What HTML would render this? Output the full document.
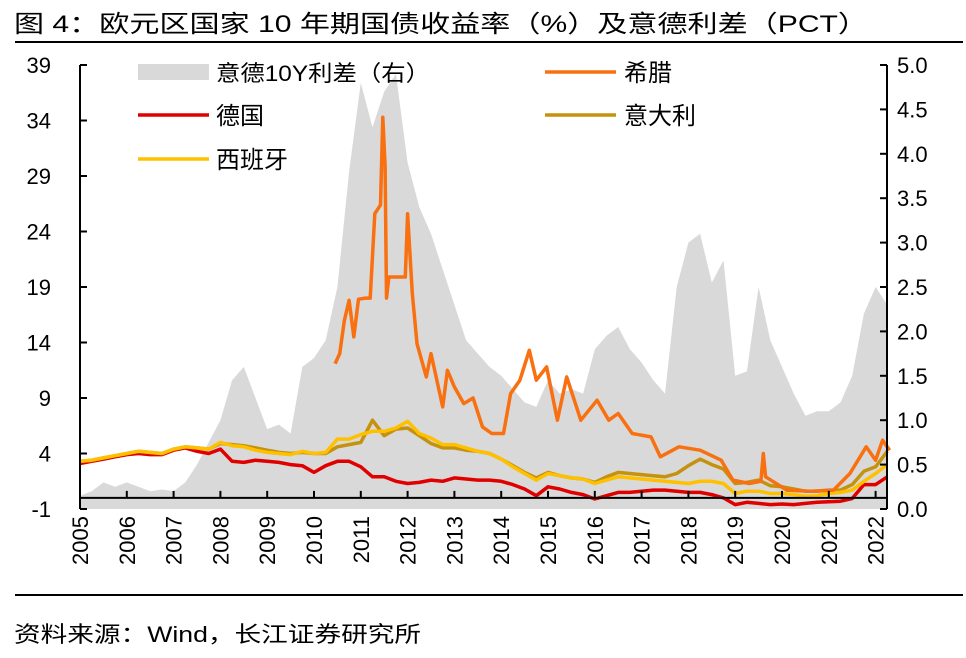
<!DOCTYPE html>
<html><head><meta charset="utf-8"><style>
body{margin:0;background:#fff;}
svg text{font-family:"Liberation Sans","Noto Sans CJK SC",sans-serif;}
</style></head><body>
<svg id="chart" width="966" height="653" viewBox="0 0 966 653" xmlns="http://www.w3.org/2000/svg">
<text x="14" y="32" font-size="24" textLength="854" lengthAdjust="spacingAndGlyphs" fill="#000">图 4：欧元区国家 10 年期国债收益率（%）及意德利差（PCT）</text>
<rect x="15" y="41" width="948" height="2" fill="#000"/>
<rect x="15" y="594" width="948" height="2" fill="#000"/>
<text x="14" y="642" font-size="22" textLength="407" lengthAdjust="spacingAndGlyphs" fill="#000">资料来源：Wind，长江证券研究所</text>
<g id="plot"></g>
<g id="legend">
<rect x="138" y="64" width="71" height="16" fill="#D9D9D9"/>
<text x="216" y="81" font-size="22" textLength="214" lengthAdjust="spacingAndGlyphs">意德10Y利差（右）</text>
<line x1="138" y1="115" x2="209" y2="115" stroke="#E00000" stroke-width="3.5"/>
<text x="216" y="124" font-size="24">德国</text>
<line x1="138" y1="159" x2="209" y2="159" stroke="#FFC000" stroke-width="3.5"/>
<text x="216" y="168" font-size="24">西班牙</text>
<line x1="545" y1="72" x2="616" y2="72" stroke="#F87010" stroke-width="3.5"/>
<text x="624" y="81" font-size="24">希腊</text>
<line x1="545" y1="115" x2="616" y2="115" stroke="#C4920C" stroke-width="3.5"/>
<text x="624" y="124" font-size="24">意大利</text>
</g>
</svg>
<script>
const years=[2005,2006,2007,2008,2009,2010,2011,2012,2013,2014,2015,2016,2017,2018,2019,2020,2021,2022];
const leftTicks=[-1,4,9,14,19,24,29,34,39];
const rightTicks=["0.0","0.5","1.0","1.5","2.0","2.5","3.0","3.5","4.0","4.5","5.0"];
const gridStart=2005, gridStep=0.25;
const spread=[0.15,0.2,0.3,0.25,0.3,0.25,0.2,0.22,0.2,0.3,0.5,0.75,1.0,1.45,1.6,1.25,0.9,0.95,0.85,1.6,1.7,1.9,2.5,3.8,4.8,4.3,4.7,4.9,3.9,3.4,3.1,2.7,2.3,1.9,1.75,1.6,1.5,1.35,1.2,1.15,1.45,1.3,1.35,1.3,1.8,1.95,2.05,1.8,1.65,1.45,1.3,2.5,3.0,3.1,2.55,2.8,1.5,1.55,2.5,1.9,1.6,1.3,1.05,1.1,1.1,1.2,1.5,2.2,2.5,2.3];
const germany=[3.1,3.3,3.5,3.7,3.9,4.0,3.9,3.9,4.3,4.5,4.2,4.0,4.4,3.3,3.2,3.4,3.3,3.2,3.0,2.9,2.3,2.9,3.3,3.3,2.8,1.9,1.9,1.5,1.3,1.4,1.6,1.5,1.8,1.7,1.6,1.6,1.5,1.2,0.8,0.2,1.0,0.8,0.5,0.3,-0.1,0.2,0.5,0.5,0.6,0.7,0.7,0.6,0.5,0.5,0.3,0.0,-0.6,-0.4,-0.5,-0.6,-0.55,-0.6,-0.5,-0.4,-0.35,-0.3,-0.05,1.2,1.2,1.9];
const spain=[3.3,3.4,3.6,3.8,4.0,4.2,4.1,4.0,4.4,4.6,4.5,4.4,5.0,4.7,4.6,4.3,4.1,4.0,3.9,4.2,4.0,4.1,5.3,5.3,5.7,6.0,6.0,6.3,6.9,5.8,5.4,4.8,4.8,4.5,4.2,4.0,3.5,2.8,2.2,1.6,2.2,2.0,1.8,1.7,1.3,1.6,1.9,1.8,1.7,1.6,1.5,1.4,1.3,1.5,1.5,1.3,0.4,0.6,0.6,0.4,0.4,0.3,0.15,0.2,0.4,0.5,0.7,1.5,2.2,3.0];
const italy=[3.3,3.4,3.6,3.8,4.0,4.2,4.1,4.0,4.4,4.6,4.5,4.4,4.9,4.8,4.7,4.5,4.3,4.1,4.0,4.1,4.0,4.0,4.6,4.8,5.0,7.0,5.6,6.2,6.3,5.6,4.9,4.5,4.5,4.3,4.2,4.0,3.5,2.9,2.3,1.8,2.3,2.0,1.8,1.7,1.4,1.9,2.3,2.2,2.1,2.0,1.9,2.2,2.9,3.5,3.0,2.6,1.3,1.4,1.6,1.1,1.0,0.8,0.6,0.6,0.7,0.7,1.2,2.4,2.8,4.2];
const greeceDates=[2010.45,2010.55,2010.65,2010.75,2010.85,2010.95,2011.1,2011.2,2011.3,2011.42,2011.47,2011.52,2011.55,2011.6,2011.95,2012.0,2012.1,2012.2,2012.4,2012.5,2012.75,2012.85,2013.0,2013.2,2013.4,2013.6,2013.8,2014.05,2014.2,2014.4,2014.6,2014.75,2014.97,2015.2,2015.4,2015.7,2016.05,2016.3,2016.5,2016.8,2017.2,2017.4,2017.8,2018.25,2018.7,2018.95,2019.3,2019.55,2019.6,2019.65,2020.1,2020.6,2021.1,2021.45,2021.8,2022.0,2022.15,2022.3];
const greeceValues=[12.1,13.0,16.0,17.8,14.5,17.9,18.0,18.0,25.6,26.4,34.3,29.9,18.0,19.9,19.9,25.6,18.4,13.9,10.9,13.0,8.2,11.5,10.0,8.5,9.0,6.4,5.8,5.8,9.4,10.6,13.3,10.6,11.8,7.0,10.9,7.0,8.8,7.0,7.6,5.8,5.5,3.7,4.6,4.3,3.4,1.6,1.3,1.5,4.0,1.9,0.7,0.6,0.7,2.2,4.6,3.4,5.2,4.3];

const NS="http://www.w3.org/2000/svg";
const X0=80,PXY=46.8,XL=80,XR=887,YT=65,YB=509;
const xs=t=>X0+(t-2005)*PXY;
const yl=v=>YB-(v+1)*(YB-YT)/40;
const yr=v=>YB-v*(YB-YT)/5;
const plot=document.getElementById('plot');
function mk(tag,attrs,parent){const e=document.createElementNS(NS,tag);for(const k in attrs)e.setAttribute(k,attrs[k]);(parent||plot).appendChild(e);return e;}
const gridT=i=>gridStart+i*gridStep;

let d=`M${xs(gridT(0))},${YB}`;
spread.forEach((v,i)=>{d+=`L${xs(gridT(i)).toFixed(1)},${yr(v).toFixed(1)}`;});
d+=`L${xs(gridT(spread.length-1))},${YB}Z`;
const area=mk('path',{d:d,fill:'#D9D9D9'});



function line(vals,dates,color,name){
  let p='';vals.forEach((v,i)=>{p+=(i?'L':'M')+xs(dates(i)).toFixed(1)+','+yl(v).toFixed(1);});
  const e=mk('path',{d:p,fill:'none',stroke:color,'stroke-width':3.5,'stroke-linejoin':'round'});
  
  
}
line(germany,gridT,'#E00000','germany-line');
line(italy,gridT,'#C4920C','italy-line');
line(spain,gridT,'#FFC000','spain-line');
line(greeceValues,i=>greeceDates[i],'#F87010','greece-line');

const ax=mk('g',{stroke:'#000','stroke-width':2});


mk('line',{x1:XL,y1:YT,x2:XL,y2:YB},ax);
mk('line',{x1:XR,y1:YT,x2:XR,y2:YB},ax);
mk('line',{x1:XL,y1:yl(0),x2:XR,y2:yl(0)},ax);
leftTicks.forEach(v=>{
  mk('line',{x1:XL,y1:yl(v),x2:XL+7,y2:yl(v)},ax);
  const t=mk('text',{x:51,y:yl(v)+8,'font-size':22,'text-anchor':'end'});
  t.textContent=v;
  
  
});
rightTicks.forEach(s=>{
  const v=parseFloat(s);
  mk('line',{x1:XR-7,y1:yr(v),x2:XR,y2:yr(v)},ax);
  const t=mk('text',{x:897,y:yr(v)+8,'font-size':22});
  t.textContent=s;
  
  
});
years.forEach(y=>{
  const x=xs(y);
  if(y>2005)mk('line',{x1:x,y1:yl(0),x2:x,y2:yl(0)-7},ax);
  const t=mk('text',{x:0,y:0,'font-size':22,'text-anchor':'end',transform:`translate(${x+8},516) rotate(-90)`});
  t.textContent=y;
  
  
});
</script>
</body></html>
